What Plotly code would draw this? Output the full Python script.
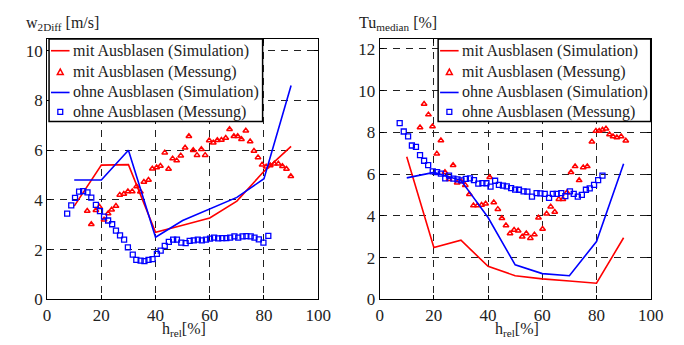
import plotly.graph_objects as go

# ---------------- data ----------------
sim_x = [10, 20, 30, 40, 50, 60, 70, 80, 90]

# left panel: w2Diff [m/s]
w_mit_sim = [3.75, 5.4, 5.42, 2.7, 2.98, 3.27, 3.95, 5.15, 6.15]
w_ohne_sim = [4.8, 4.8, 6.0, 2.5, 3.17, 3.63, 4.1, 4.85, 8.6]

w_mit_mess_x = [14.8, 16.3, 18.0, 19.3, 21.0, 22.5, 23.8, 25.4, 26.8, 28.3, 29.8, 31.4, 33.0, 34.4,
                35.7, 37.4, 38.8, 40.4, 41.8, 43.4, 44.8, 46.3, 47.8, 49.3, 50.9, 52.3, 53.9, 55.3,
                56.9, 58.3, 59.8, 61.3, 62.8, 64.3, 65.9, 67.3, 68.9, 70.3, 71.7, 73.3, 74.9, 76.3,
                77.8, 79.3, 80.8, 82.3, 83.8, 85.3, 86.8, 88.3, 89.9]
w_mit_mess_y = [3.55, 3.02, 3.58, 3.72, 3.2, 3.45, 3.6, 3.75, 4.2, 4.24, 4.34, 4.34, 4.54, 4.33,
                4.72, 4.8, 5.25, 5.3, 5.36, 5.9, 5.24, 5.66, 5.58, 5.78, 6.1, 6.56, 6.0, 5.8,
                6.04, 5.8, 6.39, 6.3, 6.4, 6.41, 6.49, 6.84, 6.56, 6.56, 6.44, 6.78, 6.35, 5.97,
                5.71, 5.41, 5.33, 5.38, 5.45, 5.45, 5.35, 5.24, 4.95]

w_ohne_mess_x = [7.4, 8.9, 10.3, 11.8, 13.3, 14.9, 16.3, 18.0, 19.5, 21.0, 22.5, 24.0, 25.4, 26.9,
                 28.4, 29.8, 31.6, 32.9, 34.5, 35.9, 37.4, 38.9, 40.5, 41.9, 43.4, 44.9, 46.5, 47.9,
                 49.5, 51.1, 52.6, 54.1, 55.6, 57.1, 58.6, 60.1, 61.6, 63.1, 64.6, 66.1, 67.5, 69.1,
                 70.5, 72.1, 73.5, 75.1, 76.5, 78.1, 79.8, 81.6]
w_ohne_mess_y = [3.45, 3.78, 4.08, 4.33, 4.35, 4.3, 4.09, 3.8, 3.55, 3.33, 3.17, 3.02, 2.76, 2.57,
                 2.4, 2.09, 1.8, 1.59, 1.56, 1.54, 1.59, 1.62, 1.83, 1.96, 2.15, 2.31, 2.4, 2.4,
                 2.28, 2.26, 2.35, 2.37, 2.4, 2.37, 2.4, 2.44, 2.48, 2.45, 2.46, 2.46, 2.48, 2.53,
                 2.48, 2.53, 2.54, 2.53, 2.48, 2.41, 2.28, 2.55]

# right panel: Tu median [%]
tu_mit_sim = [6.83, 2.48, 2.83, 1.58, 1.13, 0.98, 0.88, 0.77, 2.95]
tu_ohne_sim = [5.82, 6.08, 5.7, 3.92, 1.65, 1.23, 1.13, 2.77, 6.5]

tu_mit_mess_x = [14.9, 16.4, 18.0, 19.5, 21.1, 22.6, 24.1, 25.6, 27.1, 28.6, 30.1, 31.6, 33.1, 34.6,
                 36.1, 37.6, 39.1, 40.6, 42.1, 43.6, 45.1, 46.6, 48.1, 49.6, 51.1, 52.6, 54.1, 55.6,
                 57.1, 58.6, 60.1, 61.6, 63.1, 64.6, 66.1, 67.6, 69.1, 70.6, 72.1, 73.6, 75.1, 76.6,
                 78.3, 79.8, 81.0, 82.2, 83.5, 84.8, 86.1, 87.5, 89.1, 90.8]
tu_mit_mess_y = [8.23, 9.36, 8.85, 8.28, 6.97, 7.61, 6.09, 5.75, 6.42, 5.59, 5.64, 5.47, 5.03, 4.49,
                 4.49, 4.52, 4.58, 5.85, 4.64, 4.32, 3.88, 3.54, 3.15, 3.32, 3.29, 3.0, 3.15, 2.93,
                 3.1, 3.91, 3.37, 4.1, 4.44, 4.18, 4.8, 4.8, 5.12, 6.09, 6.37, 5.7, 6.32, 6.37,
                 7.55, 8.07, 8.07, 8.12, 8.17, 7.9, 7.8, 7.75, 7.8, 7.6]

tu_ohne_mess_x = [7.4, 8.9, 10.5, 11.9, 13.4, 14.9, 16.4, 17.9, 19.6, 21.2, 22.6, 24.2, 25.6, 27.2,
                  28.7, 30.2, 31.8, 33.3, 34.8, 36.4, 37.9, 39.4, 40.9, 42.6, 44.0, 45.5, 46.9, 48.5,
                  50.0, 51.4, 53.1, 54.5, 56.2, 57.9, 59.3, 60.9, 62.5, 63.9, 65.3, 67.0, 68.5, 70.2,
                  71.6, 73.1, 74.6, 76.1, 77.5, 79.1, 80.6, 82.2]
tu_ohne_mess_y = [8.44, 8.04, 7.81, 7.37, 7.3, 6.91, 6.64, 6.43, 6.13, 6.09, 6.02, 5.79, 5.93, 5.78,
                  5.75, 5.7, 5.77, 5.79, 5.71, 5.54, 5.57, 5.56, 5.4, 5.68, 5.48, 5.45, 5.41, 5.33,
                  5.26, 5.25, 5.17, 5.16, 4.92, 5.09, 5.08, 5.05, 4.86, 5.05, 5.05, 5.09, 4.94, 5.17,
                  5.05, 4.92, 5.0, 5.25, 5.32, 5.48, 5.71, 5.93]

legend_names = ["mit Ausblasen (Simulation)", "mit Ausblasen (Messung)",
                "ohne Ausblasen (Simulation)", "ohne Ausblasen (Messung)"]
x_ticks = [0, 20, 40, 60, 80, 100]
y_ticks_left = [0, 2, 4, 6, 8, 10]
y_ticks_right = [0, 2, 4, 6, 8, 10, 12]

# ---------------- figure ----------------
RED = "#ff0000"
BLUE = "#0000ff"
FONT = "Liberation Serif, Times New Roman, serif"
TXT = "#222222"
W, H = 684, 345

fig = go.Figure()


def add_panel(xa, ya, mit_sim, ohne_sim, mx, my, ox, oy):
    fig.add_trace(go.Scatter(x=sim_x, y=mit_sim, mode="lines", name=legend_names[0],
                             line=dict(color=RED, width=1.6), xaxis=xa, yaxis=ya))
    fig.add_trace(go.Scatter(x=mx, y=my, mode="markers", name=legend_names[1],
                             marker=dict(symbol="triangle-up-open", color=RED, size=5,
                                         line=dict(width=1.5, color=RED)),
                             xaxis=xa, yaxis=ya))
    fig.add_trace(go.Scatter(x=sim_x, y=ohne_sim, mode="lines", name=legend_names[2],
                             line=dict(color=BLUE, width=1.6), xaxis=xa, yaxis=ya))
    fig.add_trace(go.Scatter(x=ox, y=oy, mode="markers", name=legend_names[3],
                             marker=dict(symbol="square-open", color=BLUE, size=5,
                                         line=dict(width=1.3, color=BLUE)),
                             xaxis=xa, yaxis=ya))


add_panel("x", "y", w_mit_sim, w_ohne_sim, w_mit_mess_x, w_mit_mess_y,
          w_ohne_mess_x, w_ohne_mess_y)
add_panel("x2", "y2", tu_mit_sim, tu_ohne_sim, tu_mit_mess_x, tu_mit_mess_y,
          tu_ohne_mess_x, tu_ohne_mess_y)


def px_x(p):
    return p / W


def px_y(p):
    return (H - p) / H


ydom = [px_y(300), px_y(32)]
axis_common = dict(showline=True, linecolor="black", linewidth=1, mirror="ticks",
                   ticks="inside", ticklen=4, tickcolor="black",
                   showgrid=True, gridcolor="#222222", gridwidth=1, griddash="7px,6px",
                   zeroline=False, tickfont=dict(family=FONT, size=17, color=TXT))

fig.update_layout(
    width=W, height=H,
    margin=dict(l=0, r=0, t=0, b=0),
    paper_bgcolor="white", plot_bgcolor="white",
    font=dict(family=FONT, color=TXT),
    showlegend=False,
    xaxis=dict(domain=[px_x(36), px_x(314)], range=[0, 100], tickvals=x_ticks, anchor="y",
               ticklabelstandoff=0, **axis_common),
    yaxis=dict(domain=ydom, range=[0, 10.47], tickvals=y_ticks_left, anchor="x", **axis_common),
    xaxis2=dict(domain=[px_x(377), px_x(655)], range=[0, 100], tickvals=x_ticks, anchor="y2",
                ticklabelstandoff=0, **axis_common),
    yaxis2=dict(domain=ydom, range=[0, 12.47], tickvals=y_ticks_right, anchor="x2",
                **axis_common),
)

# ---------------- legends (drawn as decoration) ----------------
row_y = [44, 66, 87, 107]


def draw_legend(box_left, box_right):
    fig.add_shape(type="rect", xref="paper", yref="paper",
                  x0=px_x(box_left), x1=px_x(box_right), y0=px_y(117), y1=px_y(32),
                  fillcolor="white", line=dict(color="black", width=1.5), layer="above")
    ls0, ls1 = box_left + 2, box_left + 21
    mx = (ls0 + ls1) / 2
    for yy, col in [(row_y[0], RED), (row_y[2], BLUE)]:
        fig.add_shape(type="line", xref="paper", yref="paper",
                      x0=px_x(ls0), x1=px_x(ls1), y0=px_y(yy), y1=px_y(yy),
                      line=dict(color=col, width=1.6), layer="above")
    ty = row_y[1]
    tri = "M {} {} L {} {} L {} {} Z".format(px_x(mx - 3), px_y(ty + 2.5), px_x(mx + 3),
                                            px_y(ty + 2.5), px_x(mx), px_y(ty - 3))
    fig.add_shape(type="path", xref="paper", yref="paper", path=tri,
                  line=dict(color=RED, width=1.5), layer="above")
    sy = row_y[3]
    fig.add_shape(type="rect", xref="paper", yref="paper",
                  x0=px_x(mx - 2.5), x1=px_x(mx + 2.5), y0=px_y(sy + 2.5), y1=px_y(sy - 2.5),
                  line=dict(color=BLUE, width=1.3), layer="above")
    for name, yy in zip(legend_names, row_y):
        fig.add_annotation(text=name, x=px_x(ls1 + 1), y=px_y(yy), xref="paper", yref="paper",
                           xanchor="left", yanchor="middle", showarrow=False,
                           font=dict(family=FONT, size=16, color=TXT))


draw_legend(38, 257)
draw_legend(437, 655)

ann_font = dict(family=FONT, size=16, color=TXT)
fig.add_annotation(text="w<sub>2Diff</sub> [m/s]", x=px_x(12), y=px_y(4), xref="paper",
                   yref="paper", xanchor="left", yanchor="top", showarrow=False, font=ann_font)
fig.add_annotation(text="Tu<sub>median</sub> [%]", x=px_x(354), y=px_y(4), xref="paper",
                   yref="paper", xanchor="left", yanchor="top", showarrow=False, font=ann_font)
fig.add_annotation(text="h<sub>rel</sub>[%]", x=px_x(176), y=px_y(319), xref="paper",
                   yref="paper", xanchor="center", yanchor="top", showarrow=False, font=ann_font)
fig.add_annotation(text="h<sub>rel</sub>[%]", x=px_x(518), y=px_y(319), xref="paper",
                   yref="paper", xanchor="center", yanchor="top", showarrow=False, font=ann_font)

fig.write_html("out.html")
